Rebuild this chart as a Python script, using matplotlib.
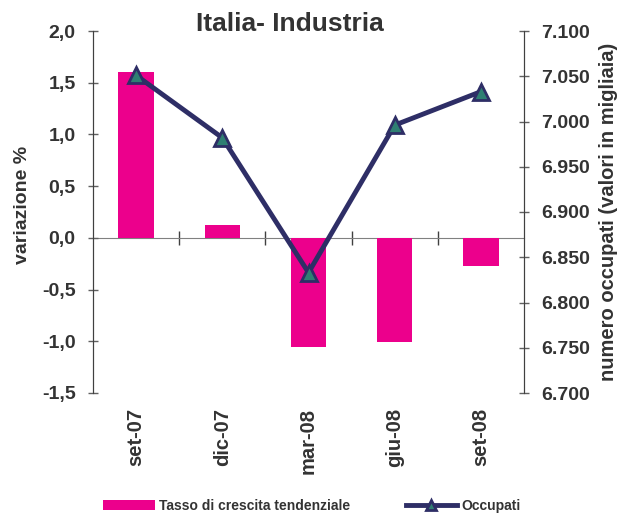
import matplotlib.pyplot as plt
from matplotlib.ticker import FuncFormatter

# Dati
periodi = ['set-07', 'dic-07', 'mar-08', 'giu-08', 'set-08']
tasso = [1.6, 0.12, -1.06, -1.01, -0.27]
occupati = [7.051, 6.982, 6.833, 6.996, 7.033]

plt.rcParams['font.family'] = ['Liberation Sans', 'DejaVu Sans']
plt.rcParams['font.weight'] = 'bold'
plt.rcParams['axes.labelweight'] = 'bold'
plt.rcParams['axes.titleweight'] = 'bold'
text_col = '#333333'

fig = plt.figure(figsize=(6.24, 5.18), dpi=100)
ax = fig.add_axes([93/624, 1 - 393/518, 431/624, 362/518])
ax2 = ax.twinx()

x = range(len(periodi))
ax.bar(x, tasso, width=0.41, color='#EC008C', label='Tasso di crescita tendenziale', zorder=2)
ax2.plot(x, occupati, color='#2E2E66', lw=3.5, marker='^', markersize=12,
         markerfacecolor='#2F7F72', markeredgecolor='#2E2E66', markeredgewidth=2,
         label='Occupati', zorder=3)

ax.set_xlim(-0.5, len(periodi) - 0.5)
ax.set_ylim(-1.5, 2.0)
ax.set_yticks([-1.5, -1.0, -0.5, 0.0, 0.5, 1.0, 1.5, 2.0])
ax.yaxis.set_major_formatter(FuncFormatter(lambda v, p: f'{v:.1f}'.replace('.', ',')))
ax2.set_ylim(6.7, 7.1)
ax2.set_yticks([6.7, 6.75, 6.8, 6.85, 6.9, 6.95, 7.0, 7.05, 7.1])
ax2.yaxis.set_major_formatter(FuncFormatter(lambda v, p: f'{v:.3f}'))

for a in (ax, ax2):
    a.spines['top'].set_visible(False)
    a.spines['bottom'].set_visible(False)
    a.spines['left'].set_color('#404040')
    a.spines['right'].set_color('#404040')

ax.tick_params(axis='y', direction='inout', length=7, width=1, color='#606060',
               labelsize=14, labelcolor=text_col, pad=9)
ax2.tick_params(axis='y', direction='inout', length=7, width=1, color='#606060',
                labelsize=14, labelcolor=text_col, pad=9)
ax.set_xticks(list(x))
ax.set_xticklabels(periodi, rotation=90, fontsize=14.5, color=text_col)
ax.tick_params(axis='x', length=0, pad=11)

# linea dello zero con tacche tra le categorie
zero = ax.secondary_xaxis(1.5 / 3.5)
zero.spines['bottom'].set_color('#808080')
zero.set_xticks([i + 0.5 for i in range(len(periodi) - 1)])
zero.tick_params(direction='inout', length=10, width=1, color='#404040', labelbottom=False)

ax.set_ylabel('variazione %', fontsize=14, color=text_col)
ax.yaxis.set_label_coords(-0.145, 0.52)
ax2.set_ylabel('numero occupati (valori in migliaia)', fontsize=14.5, color=text_col, labelpad=6)
ax.set_title('Italia- Industria', fontsize=19, color=text_col, pad=0, x=0.457, y=1.0)

h1, l1 = ax.get_legend_handles_labels()
h2, l2 = ax2.get_legend_handles_labels()
fig.legend(h1 + h2, l1 + l2, loc='center', bbox_to_anchor=(0.5, 1 - 506/518), ncol=2,
           frameon=False, fontsize=10, handlelength=3.7, handleheight=0.8,
           handletextpad=0.3, columnspacing=4, labelcolor=text_col, markerscale=0.6)

fig.savefig('out.png', dpi=100)
